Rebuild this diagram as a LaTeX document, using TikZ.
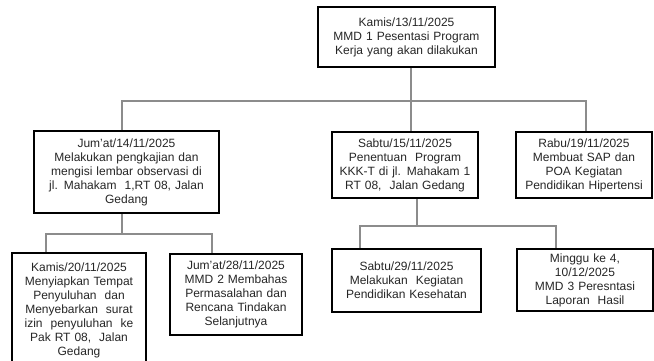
\documentclass[tikz,border=0pt]{standalone}
\usepackage{fontspec}
\setmainfont{Liberation Sans}
\usepackage{tikz}
\usetikzlibrary{calc}
\tikzset{
  planbox/.style 2 args={draw=black, line width=2pt, fill=white, align=center,
    inner xsep=0pt, inner ysep=0pt, text width=#1, minimum height=#2,
    text=black!85, font=\fontsize{12}{14}\selectfont},
  linkln/.style={line width=1.1pt, black!45},
}

\begin{document}
\begin{tikzpicture}[x=1pt, y=-1pt]
    \useasboundingbox (0,0) rectangle (654,360);
    \clip (0,0) rectangle (654,360);
    % fork points of the connectors
    \coordinate (kt) at (411,101);
    \coordinate (kl) at (122,101);
    \coordinate (kr) at (586,101);
    \coordinate (k14) at (122,234);
    \coordinate (k20) at (46,234);
    \coordinate (k28) at (212,234);
    \coordinate (k15) at (417,226);
    \coordinate (k29) at (360,226);
    \coordinate (kmg) at (556,226);
    % boxes
    \node[planbox={177pt}{60pt}] (mmd1) at (406.5,37)
      {Kamis/13/11/2025\\MMD 1 Pesentasi Program\\Kerja yang akan dilakukan};
    \node[planbox={185pt}{82pt}] (jumat14) at (126.5,172)
      {Jum'at/14/11/2025\\Melakukan pengkajian dan\\mengisi lembar observasi di\\jl. Mahakam\ \ 1,RT 08, Jalan\\Gedang};
    \node[planbox={146pt}{66pt}] (sabtu15) at (405,165)
      {Sabtu/15/11/2025\\Penentuan\ \ Program\\KKK-T di jl. Mahakam 1\\RT 08,\ \ Jalan Gedang};
    \node[planbox={136pt}{66pt}] (rabu19) at (584,165)
      {Rabu/19/11/2025\\Membuat SAP dan\\POA Kegiatan\\Pendidikan Hipertensi};
    \node[planbox={134pt}{114pt}] (kamis20) at (79,310)
      {Kamis/20/11/2025\\Menyiapkan Tempat\\Penyuluhan\ \ dan\\Menyebarkan\ \ surat\\izin\ \ penyuluhan\ \ ke\\Pak RT 08,\ \ Jalan\\Gedang};
    \node[planbox={132pt}{81pt}] (jumat28) at (236,294.5)
      {Jum'at/28/11/2025\\MMD 2 Membahas\\Permasalahan dan\\Rencana Tindakan\\Selanjutnya};
    \node[planbox={149pt}{63pt}] (sabtu29) at (406.5,280.5)
      {Sabtu/29/11/2025\\Melakukan\ \ Kegiatan\\Pendidikan Kesehatan};
    \node[planbox={136pt}{62pt}] (minggu4) at (585,280)
      {Minggu ke 4,\\10/12/2025\\MMD 3 Peresntasi\\Laporan\ \ Hasil};
    % first level
    \draw[linkln] (mmd1.south -| kt) -- (kt);
    \draw[linkln] (jumat14.north -| kl) -- (kl) -- (kr) -- (rabu19.north -| kr);
    \draw[linkln] (kt) -- (sabtu15.north -| kt);
    % under Jum'at 14
    \draw[linkln] (jumat14.south -| k14) -- (k14);
    \draw[linkln] (kamis20.north -| k20) -- (k20) -- (k28) -- (jumat28.north -| k28);
    % under Sabtu 15
    \draw[linkln] (sabtu15.south -| k15) -- (k15);
    \draw[linkln] (sabtu29.north -| k29) -- (k29) -- (kmg) -- (minggu4.north -| kmg);
  \end{tikzpicture}
\end{document}
